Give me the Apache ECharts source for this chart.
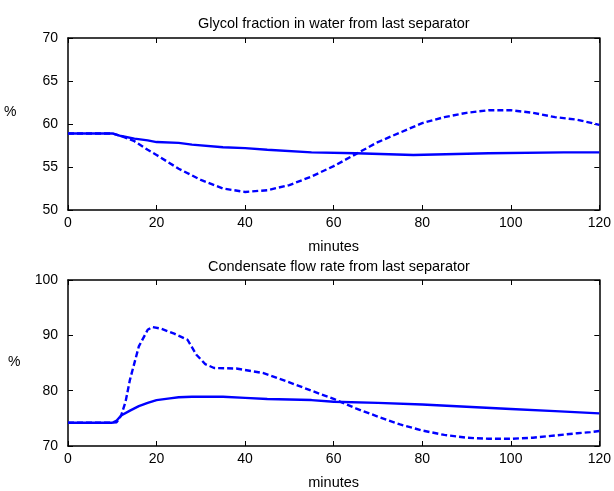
<!DOCTYPE html>
<html><head><meta charset="utf-8">
<script src="https://cdn.jsdelivr.net/npm/echarts@6/dist/echarts.min.js"></script>
<style>html,body{margin:0;padding:0;background:#fff}#c{width:614px;height:491px}</style>
</head><body><div id="c"></div>
<script>
var xTicks = [0, 20, 40, 60, 80, 100, 120];
var topTitle = 'Glycol fraction in water from last separator';
var botTitle = 'Condensate flow rate from last separator';
var glycolSolid = [[0,58.9],[10,58.9],[12,58.6],[15,58.3],[18,58.1],[20,57.9],[25,57.8],[28,57.6],[35,57.3],[40,57.2],[45,57.0],[55,56.7],[65,56.6],[78,56.4],[95,56.6],[112,56.7],[120,56.7]];
var glycolDashed = [[0,58.9],[10,58.9],[12,58.6],[15,58.0],[18,57.0],[20,56.4],[25,54.8],[30,53.5],[35,52.5],[40,52.1],[45,52.3],[50,52.9],[55,53.9],[60,55.1],[65,56.5],[70,57.9],[75,59.0],[80,60.1],[85,60.8],[90,61.3],[95,61.6],[100,61.6],[105,61.3],[110,60.8],[115,60.5],[120,59.9]];
var condSolid = [[0,74.2],[10,74.2],[11,74.6],[12,75.5],[14,76.4],[16,77.2],[18,77.8],[20,78.3],[23,78.6],[25,78.8],[28,78.9],[35,78.9],[40,78.7],[45,78.5],[55,78.3],[60,78.0],[70,77.8],[80,77.5],[90,77.1],[100,76.7],[110,76.3],[120,75.9]];
var condDashed = [[0,74.2],[10,74.2],[11,74.3],[12,75.5],[13,78.0],[14,82.0],[16,88.0],[18,91.0],[19,91.5],[21,91.2],[24,90.3],[27,89.2],[29,86.5],[31,84.8],[33,84.1],[38,84.0],[44,83.2],[50,81.5],[55,80.0],[60,78.5],[65,76.8],[70,75.3],[75,73.9],[80,72.8],[85,72.0],[90,71.5],[95,71.3],[100,71.3],[105,71.5],[110,71.9],[115,72.3],[118,72.5],[120,72.7]];

var font = 'Liberation Sans, Arial, sans-serif';
var blue = '#0000ff';
function xAx(grid, pos, show) {
  return {type:'value', gridIndex:grid, position:pos, min:0, max:120, interval:20,
    axisLine:{show:true, onZero:false, lineStyle:{color:'#000', width:1.5}},
    axisTick:{show:true, inside:true, length:5, lineStyle:{color:'#000'}},
    axisLabel:{show:show, color:'#000', fontSize:14, fontFamily:font, margin:6},
    splitLine:{show:false},
    name: show ? 'minutes' : '', nameLocation:'middle', nameGap:29,
    nameTextStyle:{color:'#000', fontSize:14.5, fontFamily:font}};
}
function yAx(grid, pos, show, mn, mx, iv) {
  return {type:'value', gridIndex:grid, position:pos, min:mn, max:mx, interval:iv,
    axisLine:{show:true, onZero:false, lineStyle:{color:'#000', width:1.5}},
    axisTick:{show:true, inside:true, length:5, lineStyle:{color:'#000'}},
    axisLabel:{show:show, color:'#000', fontSize:14, fontFamily:font, margin:10},
    splitLine:{show:false}};
}
function ser(xi, yi, data, dashed) {
  return {type:'line', xAxisIndex:xi, yAxisIndex:yi, data:data, showSymbol:false, symbol:'none',
    lineStyle:{color:blue, width:2.4, type: dashed ? [6,3] : 'solid'}, animation:false};
}
var chart = echarts.init(document.getElementById('c'), null, {renderer:'canvas'});
chart.setOption({
  animation:false,
  title:[
    {text:topTitle, left:193, top:11, textStyle:{fontSize:14.5, fontWeight:'normal', color:'#000', fontFamily:font}},
    {text:botTitle, left:203, top:254, textStyle:{fontSize:14.5, fontWeight:'normal', color:'#000', fontFamily:font}}
  ],
  graphic:[
    {type:'text', left:4, top:105, style:{text:'%', fontSize:14, fontFamily:font, fill:'#000'}},
    {type:'text', left:8, top:355, style:{text:'%', fontSize:14, fontFamily:font, fill:'#000'}}
  ],
  grid:[
    {left:68, width:532, top:38, height:172},
    {left:68, width:532, top:280, height:172}
  ],
  xAxis:[xAx(0,'bottom',true), xAx(0,'top',false), xAx(1,'bottom',true), xAx(1,'top',false)],
  yAxis:[yAx(0,'left',true,50,70,5), yAx(0,'right',false,50,70,5), yAx(1,'left',true,70,100,10), yAx(1,'right',false,70,100,10)],
  series:[
    ser(0,0,glycolSolid,false), ser(0,0,glycolDashed,true),
    ser(2,2,condSolid,false), ser(2,2,condDashed,true)
  ]
});
</script></body></html>
